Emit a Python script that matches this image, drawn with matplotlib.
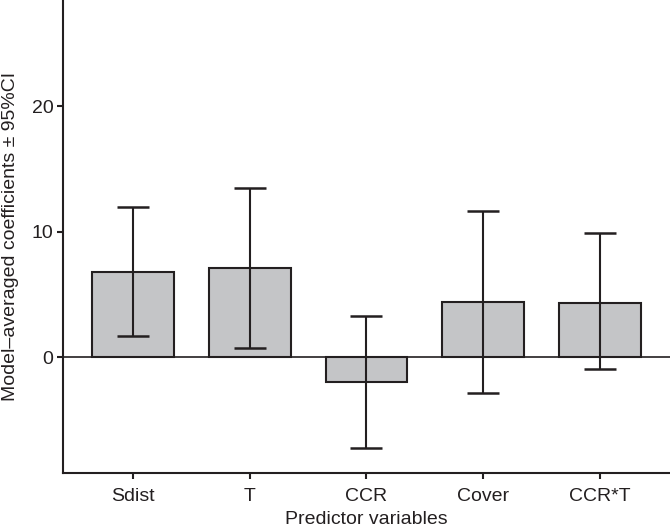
import matplotlib
matplotlib.use("Agg")
import matplotlib.pyplot as plt
import numpy as np

plt.rcParams['font.family'] = ['Liberation Sans', 'DejaVu Sans']

categories = ["Sdist", "T", "CCR", "Cover", "CCR*T"]
coef = [6.8, 7.1, -1.95, 4.38, 4.32]
ci_low = [1.7, 0.7, -7.2, -2.85, -0.93]
ci_high = [11.95, 13.5, 3.3, 11.65, 9.9]

dark = "#231f20"
fig = plt.figure(figsize=(6.7, 5.3), dpi=100)
ax = fig.add_axes([0.094, 0.108, 0.906, 0.892])

x = np.arange(len(categories))
coef_a = np.array(coef)
yerr = np.vstack([coef_a - np.array(ci_low), np.array(ci_high) - coef_a])
ax.bar(x, coef, width=0.70, color="#c4c5c7", edgecolor=dark, linewidth=1.5, zorder=2)
ax.errorbar(x, coef, yerr=yerr, fmt="none", ecolor=dark, elinewidth=1.5,
            capsize=11.5, capthick=1.8, zorder=3)
ax.axhline(0, color=dark, linewidth=1.2, zorder=2.5)

ax.set_xlim(-0.6, 4.6)
ax.set_ylim(-9.2, 28.45)
ax.set_xticks(x)
ax.set_xticklabels(categories)
ax.set_yticks([0, 10, 20])

for s in ["top", "right"]:
    ax.spines[s].set_visible(False)
for s in ["left", "bottom"]:
    ax.spines[s].set_color(dark)
    ax.spines[s].set_linewidth(1.5)
ax.tick_params(axis="both", direction="out", length=4, width=1.5, color=dark,
               labelsize=14, labelcolor=dark)
ax.tick_params(axis="x", pad=7)
ax.tick_params(axis="y", pad=3)
ax.set_ylabel("Model\u2013averaged coefficients \u00b1 95%CI", fontsize=14, color=dark, labelpad=9)
ax.set_xlabel("Predictor variables", fontsize=14, color=dark, labelpad=4)

fig.savefig("out.png", dpi=100)
